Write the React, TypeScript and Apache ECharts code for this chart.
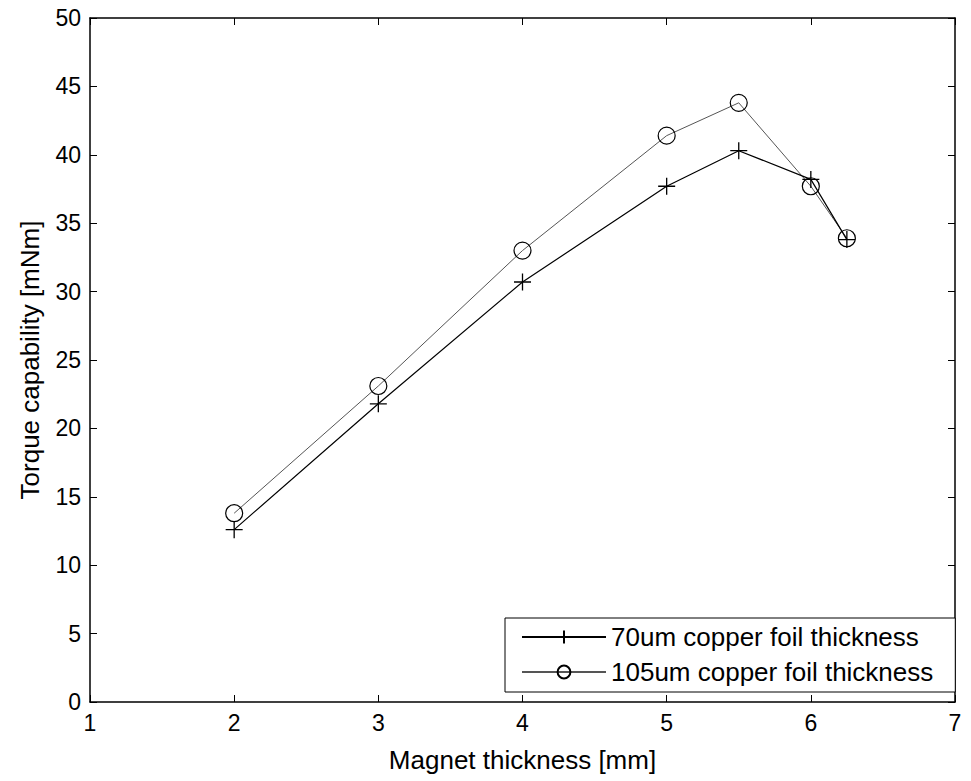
import React, { useEffect, useRef } from "react";
import * as echarts from "echarts";

const xValues = [2, 3, 4, 5, 5.5, 6, 6.25];
const torque70 = [12.6, 21.8, 30.7, 37.7, 40.3, 38.2, 33.8];
const torque105 = [13.8, 23.1, 33.0, 41.4, 43.8, 37.7, 33.9];
const seriesNames = ["70um copper foil thickness", "105um copper foil thickness"];
const xTitle = "Magnet thickness [mm]";
const yTitle = "Torque capability [mNm]";

const FONT = "'Liberation Sans', Arial, Helvetica, sans-serif";
const PLUS = "path://M8,0 L8,16 M0,8 L16,8";
const RING = "path://M16,8 A8,8 0 1 1 0,8 A8,8 0 1 1 16,8 Z";

export default function App() {
  const ref = useRef<HTMLDivElement>(null);
  useEffect(() => {
    if (!ref.current) return;
    const chart = echarts.init(ref.current, null, { renderer: "svg" });
    const tickStyle = { show: true, inside: true, length: 7, lineStyle: { color: "#000", width: 1 } };
    const lineStyle = { show: true, lineStyle: { color: "#000", width: 1.5 } };
    chart.setOption({
      animation: false,
      backgroundColor: "#fff",
      textStyle: { fontFamily: FONT },
      grid: { left: 90, right: 16, top: 18, bottom: 79, containLabel: false, outerBoundsMode: "none" },
      xAxis: [
        {
          type: "value", min: 1, max: 7, interval: 1, position: "bottom",
          axisLine: { ...lineStyle, onZero: false }, axisTick: tickStyle, splitLine: { show: false },
          axisLabel: { color: "#000", fontSize: 23, margin: 9, fontFamily: FONT },
          name: xTitle, nameLocation: "middle", nameGap: 45,
          nameTextStyle: { color: "#000", fontSize: 26, fontFamily: FONT },
        },
        {
          type: "value", min: 1, max: 7, interval: 1, position: "top",
          axisLine: { ...lineStyle, onZero: false }, axisTick: tickStyle, splitLine: { show: false },
          axisLabel: { show: false },
        },
      ],
      yAxis: [
        {
          type: "value", min: 0, max: 50, interval: 5, position: "left",
          axisLine: { ...lineStyle, onZero: false }, axisTick: tickStyle, splitLine: { show: false },
          axisLabel: { color: "#000", fontSize: 23, margin: 9, fontFamily: FONT },
          name: yTitle, nameLocation: "middle", nameGap: 47,
          nameTextStyle: { color: "#000", fontSize: 26, fontFamily: FONT },
        },
        {
          type: "value", min: 0, max: 50, interval: 5, position: "right",
          axisLine: { ...lineStyle, onZero: false }, axisTick: tickStyle, splitLine: { show: false },
          axisLabel: { show: false },
        },
      ],
      legend: {
        orient: "vertical",
        left: 505,
        top: 618,
        backgroundColor: "#fff",
        borderColor: "#000",
        borderWidth: 1,
        borderRadius: 0,
        padding: [6, 22, 7, 16],
        itemGap: 9,
        itemWidth: 84,
        itemHeight: 16,
        textStyle: { color: "#000", fontSize: 26, fontFamily: FONT },
        data: seriesNames,
      },
      series: [
        {
          name: seriesNames[0],
          type: "line",
          data: xValues.map((x, i) => [x, torque70[i]]),
          symbol: PLUS,
          symbolSize: 17,
          showAllSymbol: true,
          lineStyle: { color: "#000", width: 1.2 },
          itemStyle: { color: "#000", borderColor: "#000", borderWidth: 1.3 },
          z: 3,
        },
        {
          name: seriesNames[1],
          type: "line",
          data: xValues.map((x, i) => [x, torque105[i]]),
          symbol: RING,
          symbolSize: 17,
          showAllSymbol: true,
          lineStyle: { color: "#555", width: 1 },
          itemStyle: { color: "rgba(0,0,0,0)", borderColor: "#000", borderWidth: 1.2 },
          z: 2,
        },
      ],
    });
    return () => chart.dispose();
  }, []);
  return (
    <div
      ref={ref}
      style={{ position: "absolute", left: 0, top: 0, width: 971, height: 781 }}
    />
  );
}
